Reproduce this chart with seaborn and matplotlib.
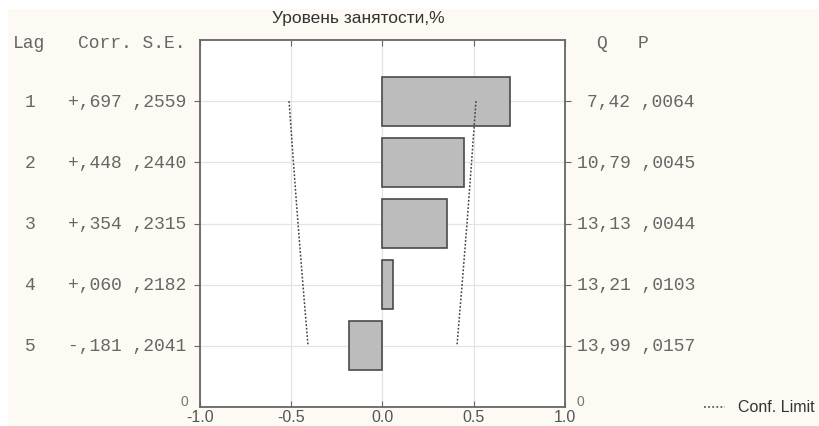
import matplotlib
matplotlib.use('Agg')
import matplotlib.pyplot as plt
import matplotlib.transforms as mtransforms
from matplotlib.lines import Line2D
from matplotlib.patches import Rectangle
import pandas as pd
import seaborn as sns

# Данные автокорреляции
lags = [1, 2, 3, 4, 5]
corr = [0.697, 0.448, 0.354, 0.060, -0.181]
corr_labels = ['+,697', '+,448', '+,354', '+,060', '-,181']
se_labels = [',2559', ',2440', ',2315', ',2182', ',2041']
q_labels = ['7,42', '10,79', '13,13', '13,21', '13,99']
p_labels = [',0064', ',0045', ',0044', ',0103', ',0157']
conf_lim = [0.512, 0.488, 0.463, 0.436, 0.408]

W, H = 820, 427
BG = '#fcfaf3'
TXT = '#666666'
MONO = 'Liberation Mono'
SANS = 'Liberation Sans'

sns.set_style('white')
plt.rcParams['font.family'] = [SANS, 'DejaVu Sans']

fig = plt.figure(figsize=(W / 100, H / 100), dpi=100, facecolor=BG)
# белые поля сверху и слева, как на скриншоте
fig.patches.append(Rectangle((0, 1 - 10 / H), 1, 10 / H, transform=fig.transFigure,
                             facecolor='white', edgecolor='none', zorder=-1))
fig.patches.append(Rectangle((0, 0), 8 / W, 1, transform=fig.transFigure,
                             facecolor='white', edgecolor='none', zorder=-1))

ax = fig.add_axes([200 / W, 1 - 408 / H, 365 / W, 367 / H])
ax.set_facecolor('white')

df = pd.DataFrame({'lag': lags, 'corr': corr})
sns.barplot(data=df, x='corr', y='lag', orient='h', native_scale=True, width=0.8,
            color='#bcbcbc', saturation=1, edgecolor='#4a4a4a', linewidth=1.2, ax=ax)

cl = pd.DataFrame({'lag': lags, 'pos': conf_lim, 'neg': [-v for v in conf_lim]})
for col in ['pos', 'neg']:
    sns.lineplot(data=cl, x=col, y='lag', sort=False, estimator=None, ax=ax,
                 color='#444444', linestyle=(0, (1.2, 1.2)), linewidth=1.1)

ax.set_xlim(-1, 1)
ax.set_ylim(6, 0)
ax.set_xticks([-1.0, -0.5, 0.0, 0.5, 1.0])
ax.set_xticklabels(['-1.0', '-0.5', '0.0', '0.5', '1.0'], color='#555555', fontsize=11.5)
ax.set_yticks(lags)
ax.set_yticklabels([])
ax.set_xlabel('')
ax.set_ylabel('')
ax.grid(True, color='#e4e4e4', linewidth=0.9)
ax.set_axisbelow(True)
ax.tick_params(axis='x', direction='in', top=True, bottom=True, length=4,
               color='#666666', pad=1.5)
ax.tick_params(axis='y', left=True, right=True, length=4, color='#666666')
for s in ax.spines.values():
    s.set_color('#666666')
    s.set_linewidth(1.3)

fig.text(358 / W, 1 - 18 / H, 'Уровень занятости,%', ha='center', va='center',
         fontsize=12.5, color='#333333')

# табличные колонки слева и справа
fs = 13
fig.text(13 / W, 1 - 44 / H, 'Lag', family=MONO, fontsize=fs, color=TXT, va='center')
fig.text(186 / W, 1 - 44 / H, 'Corr. S.E.', family=MONO, fontsize=fs, color=TXT,
         va='center', ha='right')
fig.text(596 / W, 1 - 43 / H, 'Q', family=MONO, fontsize=fs, color=TXT, va='center')
fig.text(638 / W, 1 - 43 / H, 'P', family=MONO, fontsize=fs, color=TXT, va='center')

tr = mtransforms.blended_transform_factory(fig.transFigure, ax.transData)
for i, lag in enumerate(lags):
    fig.text(30 / W, lag, str(lag), transform=tr, family=MONO, fontsize=fs,
             color=TXT, va='center', ha='center')
    fig.text(186 / W, lag, corr_labels[i] + ' ' + se_labels[i], transform=tr,
             family=MONO, fontsize=fs, color=TXT, va='center', ha='right')
    fig.text(695 / W, lag, q_labels[i] + ' ' + p_labels[i], transform=tr,
             family=MONO, fontsize=fs, color=TXT, va='center', ha='right')

fig.text(184 / W, 5.9, '0', transform=tr, fontsize=10, color='#777777', va='center', ha='center')
fig.text(580 / W, 5.9, '0', transform=tr, fontsize=10, color='#777777', va='center', ha='center')

# легенда доверительных границ
fig.add_artist(Line2D([704 / W, 725 / W], [1 - 408 / H, 1 - 408 / H], transform=fig.transFigure,
                      color='#444444', linestyle=(0, (1.2, 1.5)), linewidth=1.1))
fig.text(738 / W, 1 - 408 / H, 'Conf. Limit', fontsize=11.5, color='#333333', va='center')

fig.savefig('out.png', dpi=100, facecolor=BG)
